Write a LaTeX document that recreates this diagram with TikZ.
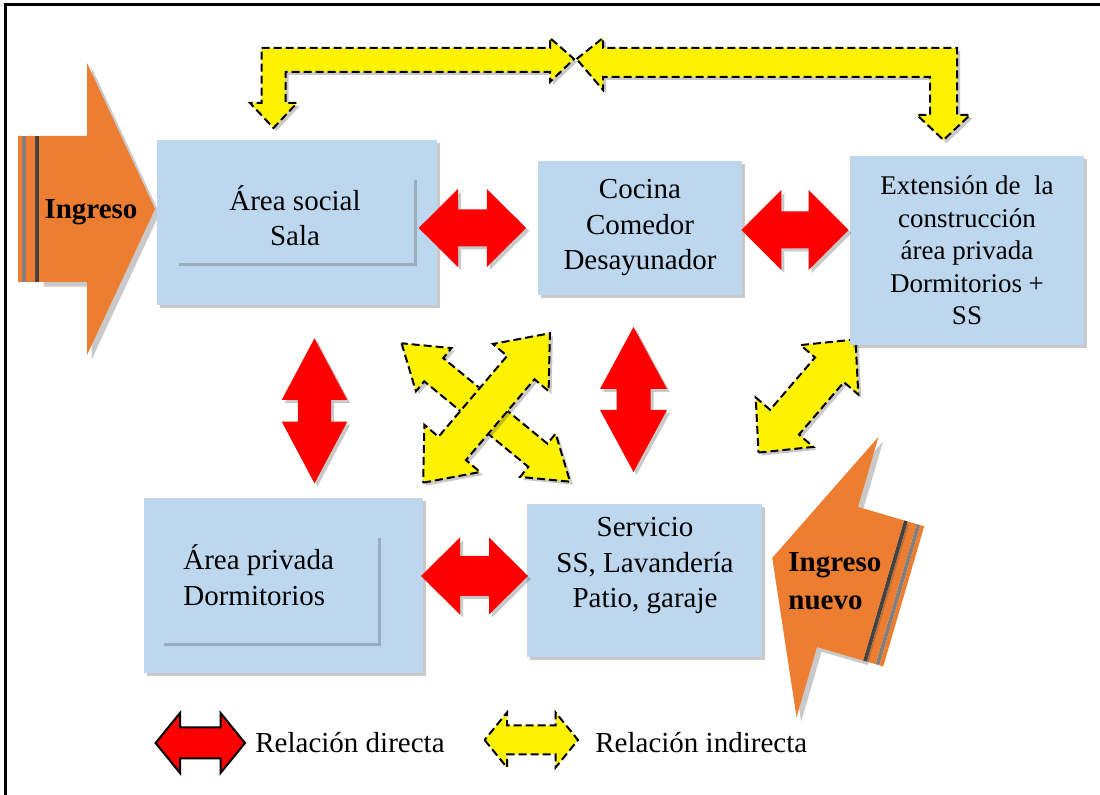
\documentclass[tikz,border=0pt]{standalone}
\usepackage{fontspec}
\setmainfont{Liberation Serif}
\usetikzlibrary{shadows}
\definecolor{roomblue}{RGB}{189,215,238}
\definecolor{entrada}{RGB}{237,125,49}

% double block arrow: style, centre, angle, half length, head length, head half width, shaft half width
\newcommand\dblarrow[7]{%
  \path[#1,shift={#2},rotate=#3] (-#4,0) -- (-#4+#5,#6) -- (-#4+#5,#7) -- (#4-#5,#7) -- (#4-#5,#6) -- (#4,0)
    -- (#4-#5,-#6) -- (#4-#5,-#7) -- (-#4+#5,-#7) -- (-#4+#5,-#6) -- cycle;}
% striped entrance arrow: centre of head base, angle
\newcommand\entrada[2]{%
  \begin{scope}[shift={#1},rotate=#2]
    \fill[gray] (-65,-73) rectangle (-61,73);
    \fill[black!75] (-52,-73) rectangle (-48,73);
    \fill[entrada] (-69,-73) rectangle (-65,73) (-61,-73) rectangle (-52,73);
    \fill[entrada,drop shadow={opacity=.3,fill=black!70}] (-48,-73) -- (0,-73) -- (0,-146) -- (68,0) -- (0,146) -- (0,73) -- (-48,73) -- cycle;
  \end{scope}}

\begin{document}
\begin{tikzpicture}[x=0.5pt,y=-0.5pt,
  room/.style={fill=roomblue,inner sep=0pt,drop shadow={opacity=.3,fill=black!70,shadow xshift=1.5pt,shadow yshift=-1.5pt}},
  txt/.style={font=\fontsize{14.5}{17.75}\selectfont,align=center,inner sep=0pt},
  direct/.style={fill=red,drop shadow={opacity=.3,fill=black!70,shadow xshift=1.5pt,shadow yshift=-1.5pt}},
  indirect/.style={fill=yellow,draw=black,line width=1pt,dash pattern=on 4pt off 2pt,drop shadow={opacity=.3,fill=black!70,shadow xshift=1.5pt,shadow yshift=-1.5pt}},
  legendD/.style={fill=red,draw=black,line width=1pt},
  legendI/.style={fill=yellow,draw=black,line width=1pt,dash pattern=on 4pt off 2pt}]
  \useasboundingbox (0,0) rectangle (1100,795);
  \draw[line width=1.5pt] (5,795) -- (5,5) -- (1100,5);

  % entrances
  \entrada{(87,209)}{0}
  \entrada{(837.5,577)}{163.7}

  % indirect relations
  \path[indirect] (261.5,48) -- (550,48) -- (550,38) -- (574,59) -- (550,82) -- (550,72) -- (285.5,72)
    -- (285.5,103) -- (297,103) -- (273.5,128) -- (250,103) -- (261.5,103) -- cycle;
  \path[indirect] (576.6,59) -- (603,38) -- (603,48) -- (957,48) -- (957,115) -- (970,115) -- (943.5,140)
    -- (917,115) -- (930,115) -- (930,77) -- (603,77) -- (603,90) -- cycle;
  \dblarrow{indirect}{(485.8,412.5)}{-39.4}{109}{41.6}{28}{15}
  \dblarrow{indirect}{(486.5,408)}{49.7}{98}{45}{36.5}{18}
  \dblarrow{indirect}{(807,396)}{49.4}{74.5}{40}{38}{19}

  % rooms
  \node[room,minimum width=140pt,minimum height=82.5pt] (social) at (297,222.5) {};
  \node[room,minimum width=119pt,minimum height=43pt] (socialIn) at (295,220) {};
  \node[txt] (socialTxt) at (295,215.5) {Área social\\Sala};
  \node[room,txt,minimum width=102pt,minimum height=67pt] (cocina) at (640,228) {Cocina\\Comedor\\Desayunador};
  \node[room,txt,font=\fontsize{13.5}{16.2}\selectfont,minimum width=117pt,minimum height=94.5pt] (extension) at (967,250.5)
    {Extensión de~ la\\construcción\\área privada\\Dormitorios +\\SS};
  \node[room,minimum width=139.5pt,minimum height=87.5pt] (privada) at (283.5,585.5) {};
  \node[room,minimum width=108.5pt,minimum height=54pt] (privadaIn) at (269.5,589) {};
  \node[txt,anchor=west,align=left] (privadaTxt) at (183,575.4) {Área privada\\Dormitorios};
  \node[room,minimum width=117.5pt,minimum height=76.5pt] (servicio) at (644.5,580.5) {};
  \node[txt] (servicioTxt) at (645,566) {Servicio\\SS, Lavandería\\Patio, garaje};

  \node[txt,font=\bfseries\fontsize{14.5}{17.75}\selectfont] (ingresoTxt) at (91,212.5) {Ingreso};
  \node[txt,font=\bfseries\fontsize{14.5}{19}\selectfont,anchor=west,align=left] (nuevoTxt) at (788,581) {Ingreso\\nuevo};

  % direct relations
  \dblarrow{direct}{(472.4,228)}{0}{53.7}{39.3}{39}{18.5}
  \dblarrow{direct}{(795,230)}{0}{53.6}{40}{40}{18.5}
  \dblarrow{direct}{(474.5,576)}{0}{53.5}{39}{38.5}{20}
  \dblarrow{direct}{(314.5,410.8)}{90}{72.5}{61.7}{32.8}{16.7}
  \dblarrow{direct}{(633.5,399.5)}{90}{72.5}{62}{33.5}{17}

  % legend
  \dblarrow{legendD}{(200.3,743)}{0}{44.7}{24.4}{30}{15.5}
  \node[txt,anchor=base west] (directaTxt) at (255,753) {Relación directa};
  \dblarrow{legendI}{(531.3,740)}{0}{46.7}{22.4}{27.5}{14.5}
  \node[txt,anchor=base west] (indirectaTxt) at (595,753) {Relación indirecta};
\end{tikzpicture}
\end{document}
